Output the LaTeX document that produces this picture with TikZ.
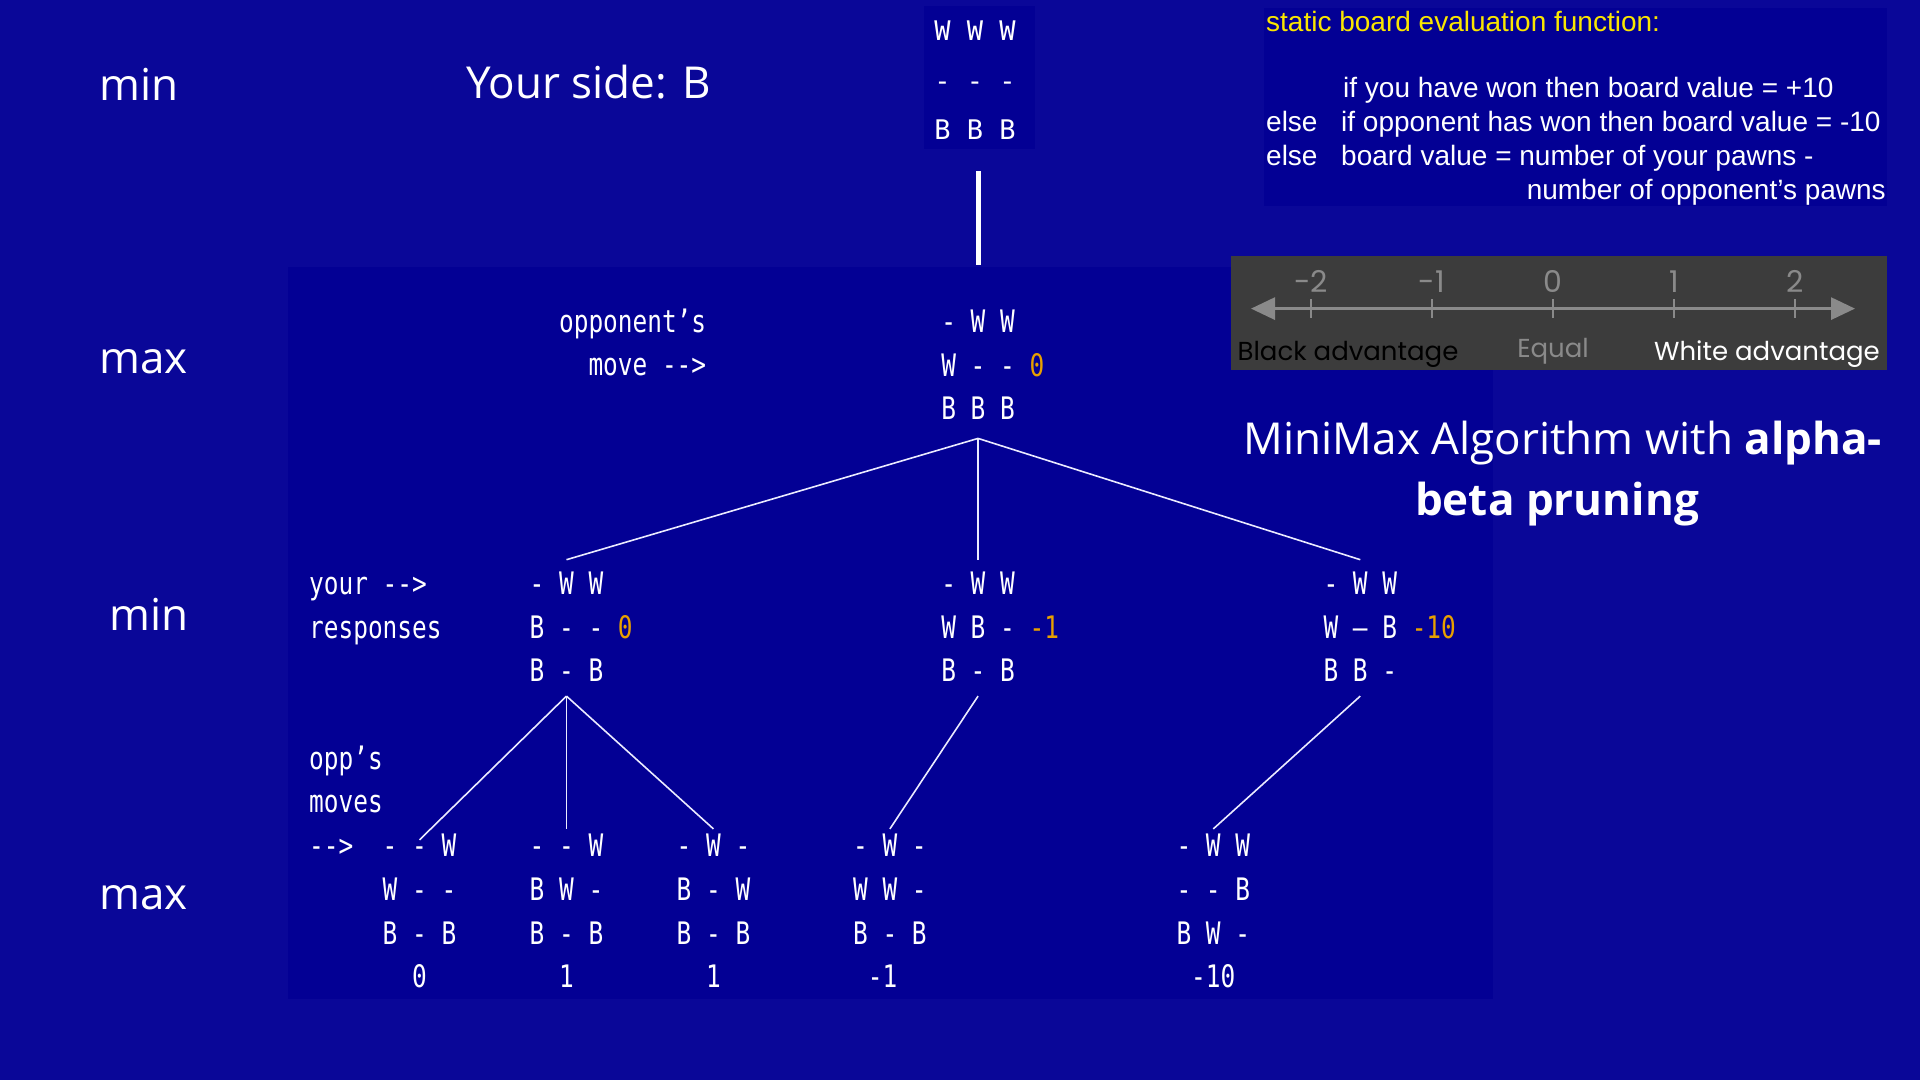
\documentclass[tikz,border=0pt]{standalone}
\usepackage{fontspec}
\usetikzlibrary{arrows.meta}
\setmainfont{Open Sans}
\newfontfamily\treefont[FakeStretch=0.788,Ligatures=TeXOff]{DejaVu Sans Mono}
\newfontfamily\topfont[Ligatures=TeXOff]{DejaVu Sans Mono}
\newfontfamily\evalfont{Liberation Sans}
\newfontfamily\nlfont{Poppins}
\definecolor{bg}{RGB}{10,7,152}
\definecolor{panel}{RGB}{3,0,148}
\definecolor{valc}{RGB}{232,160,0}
\definecolor{evy}{RGB}{250,230,0}
\definecolor{nlbox}{RGB}{60,60,60}
\definecolor{nlgray}{RGB}{138,138,138}
\newcommand{\bval}[1]{\rlap{\ \textcolor{valc}{#1}}}
\begin{document}
\begin{tikzpicture}[x=1pt,y=-1pt,
  board/.style={font={\treefont\fontsize{31}{43.7}\selectfont},text=white,align=left,inner sep=0pt,anchor=north west},
  mono/.style={font={\treefont\fontsize{31}{43.7}\selectfont},text=white,inner sep=0pt,anchor=base west},
  big/.style={font={\fontsize{44}{52}\selectfont},text=white,inner sep=0pt,anchor=base west},
  evtext/.style={font={\evalfont\fontsize{28}{34}\selectfont},text=white,inner sep=0pt,anchor=base west},
  nltext/.style={font={\nlfont\fontsize{26}{30}\selectfont},inner sep=0pt,anchor=base},
  edge/.style={draw=white!92!blue,line width=1.6pt},
]
\useasboundingbox (0,0) rectangle (1920,1080);
\fill[bg] (0,0) rectangle (1920,1080);
% panels
\fill[panel] (288,267) rectangle (1493,999);
\fill[panel] (924,6) rectangle (1035,149);
\fill[panel] (1264,8) rectangle (1887,206);
\fill[nlbox] (1231,256) rectangle (1887,370);

% left labels
\node[big] (lmin1) at (99,100) {min};
\node[big] (lmax1) at (99,373) {max};
\node[big] (lmin2) at (109,630) {min};
\node[big] (lmax2) at (99,909) {max};
\node[big] (side) at (466,98) {Your side: B};

% title
\node[big,anchor=base] (title1) at (1563,454) {MiniMax Algorithm with \textbf{alpha-}};
\node[big,anchor=base] (title2) at (1557,515) {\textbf{beta pruning}};

% evaluation function
\node[evtext,text=evy] (ev0) at (1266,31) {static board evaluation function:};
\node[evtext] (ev1) at (1343,97) {if you have won then board value = +10};
\node[evtext] (ev2a) at (1266,131) {else};
\node[evtext] (ev2) at (1341,131) {if opponent has won then board value = -10};
\node[evtext] (ev3a) at (1266,165.5) {else};
\node[evtext] (ev3) at (1341,165.5) {board value = number of your pawns -};
\node[evtext,anchor=base east] (ev4) at (1886,199) {number of opponent’s pawns};

% number line
\draw[nlgray,line width=3pt,{Triangle[length=24pt,width=22pt]}-{Triangle[length=24pt,width=22pt]}] (1251,308.6) -- (1855,308.6);
\foreach \i/\lab [count=\k] in {1311/-2,1432/-1,1553/0,1674/1,1795/2}{
  \draw[nlgray,line width=2.5pt] (\i,299) -- (\i,318);
  \node[nltext,text=nlgray,font={\nlfont\fontsize{30}{34}\selectfont}] (tick\k) at (\i,292) {\lab};
}
\node[nltext,text=black] (blk) at (1348,360) {Black advantage};
\node[nltext,text=nlgray] (eq) at (1553,357) {Equal};
\node[nltext,text=white] (wht) at (1767,360) {White advantage};

% top board
\node[font={\topfont\fontsize{27}{49.6}\selectfont},text=white,align=left,inner sep=0pt,anchor=north] (top) at (975,20.8) {W W W\\- - -\\B B B};

% tree labels
\node[mono] (t1) at (558.9,332.1) {opponent’s};
\node[mono] (t2) at (588.3,375.8) {move -->};
\node[mono] (t3) at (309,594.3) {your -->};
\node[mono] (t4) at (309,638) {responses};
\node[mono] (t5) at (309,769.1) {opp’s};
\node[mono] (t6) at (309,812.8) {moves};
\node[mono] (t7) at (309,856.5) {-->};

% level 1
\node[board] (l1) at (941.1,309.5) {- W W\\W - -\bval{0}\\B B B};
% level 2
\node[board] (l2a) at (529.5,571.7) {- W W\\B - -\bval{0}\\B - B};
\node[board] (l2b) at (941.1,571.7) {- W W\\W B -\bval{-1}\\B - B};
\node[board] (l2c) at (1323.3,571.7) {- W W\\W – B\bval{-10}\\B B -};
% level 3
\node[board] (l3a) at (382.5,833.9) {- - W\\W - -\\B - B\\\phantom{00}0};
\node[board] (l3b) at (529.5,833.9) {- - W\\B W -\\B - B\\\phantom{00}1};
\node[board] (l3c) at (676.5,833.9) {- W -\\B - W\\B - B\\\phantom{00}1};
\node[board] (l3d) at (852.9,833.9) {- W -\\W W -\\B - B\\\phantom{0}-1};
\node[board] (l3e) at (1176.3,833.9) {- W W\\- - B\\B W -\\\phantom{0}-10};

% connectors
\draw[draw=white,line width=5pt] ([yshift=-31pt]top.south -| l1.north) -- ([yshift=45pt]l1.north);
\draw[edge] ([yshift=-18.5pt]l1.south) -- ([yshift=12pt]l2a.north);
\draw[edge] ([yshift=-18.5pt]l1.south) -- ([yshift=12pt]l2b.north);
\draw[edge] ([yshift=-18.5pt]l1.south) -- ([yshift=12pt]l2c.north);
\draw[edge] ([yshift=-14pt]l2a.south) -- ([yshift=-6pt]l3a.north);
\draw[edge] ([yshift=-14pt]l2a.south) -- ([yshift=5pt]l3b.north);
\draw[edge] ([yshift=-14pt]l2a.south) -- ([yshift=5pt]l3c.north);
\draw[edge] ([yshift=-14pt]l2b.south) -- ([yshift=5pt]l3d.north);
\draw[edge] ([yshift=-14pt]l2c.south) -- ([yshift=5pt]l3e.north);
\end{tikzpicture}
\end{document}
